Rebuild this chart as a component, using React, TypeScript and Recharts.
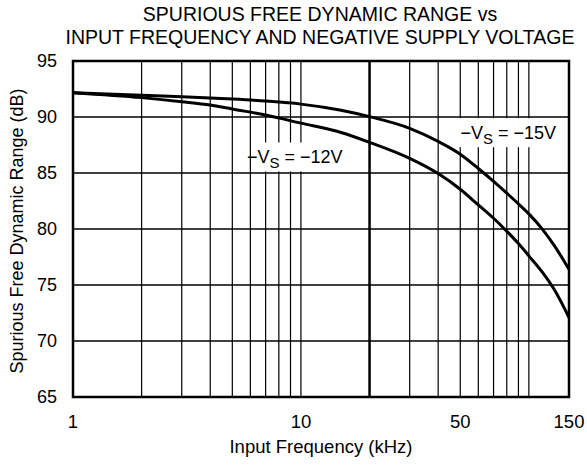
import React from "react";
import {
  LineChart,
  Line,
  CartesianGrid,
  XAxis,
  YAxis,
  ReferenceLine,
  ReferenceArea,
  ReferenceDot,
  Label,
} from "recharts";

// input frequency (kHz)
const freqs = [1, 2, 3, 4, 5, 7, 10, 15, 20, 30, 40, 50, 60, 70, 80, 90, 100, 115, 130, 150];
// SFDR (dB) at -Vs = -15V
const sfdr15 = [92.17, 91.95, 91.8, 91.7, 91.6, 91.42, 91.15, 90.6, 90.03, 88.99, 87.82, 86.68, 85.4, 84.25, 83.2, 82.25, 81.35, 79.95, 78.45, 76.4];
// SFDR (dB) at -Vs = -12V
const sfdr12 = [92.17, 91.73, 91.37, 91.07, 90.71, 90.18, 89.45, 88.62, 87.74, 86.31, 84.95, 83.55, 82.15, 80.96, 79.8, 78.7, 77.6, 76.1, 74.5, 72.1];

const xTicks = [1, 10, 50, 150];
const yTicks = [65, 70, 75, 80, 85, 90, 95];
const xGrid = [2, 3, 4, 5, 6, 7, 8, 9, 10, 20, 30, 40, 50, 60, 70, 80, 90, 100];

const data = freqs.map((f, i) => ({ f, v15: sfdr15[i], v12: sfdr12[i] }));

const FONT = "'Liberation Sans', Arial, Helvetica, sans-serif";

const Note = ({ cx, cy, w, volts }) => (
  <g>
    <rect x={cx - w / 2} y={cy - 14.5} width={w} height={29} fill="#fff" />
    <text
      x={cx}
      y={cy + 6}
      textAnchor="middle"
      fontFamily={FONT}
      fontSize={18}
      fill="#000"
    >
      −V
      <tspan fontSize={15} dy={5}>S</tspan>
      <tspan fontSize={18} dy={-5}>{" = −" + volts + "V"}</tspan>
    </text>
  </g>
);

export default function App() {
  return (
    <div
      style={{
        position: "absolute",
        left: 0,
        top: 0,
        width: 587,
        height: 465,
        background: "#fff",
        fontFamily: FONT,
      }}
    >
      <div
        style={{
          position: "absolute",
          left: 0,
          width: 640,
          top: 3,
          textAlign: "center",
          fontSize: 19.5,
          lineHeight: "23px",
          color: "#000",
        }}
      >
        SPURIOUS FREE DYNAMIC RANGE vs
        <br />
        INPUT FREQUENCY AND NEGATIVE SUPPLY VOLTAGE
      </div>
      <div style={{ position: "absolute", left: 0, top: 0 }}>
        <LineChart
          width={587}
          height={465}
          data={data}
          margin={{ top: 61, right: 18, bottom: 18, left: 15 }}
        >
          <CartesianGrid vertical={false} stroke="#000" strokeWidth={1.3} />
          <XAxis
            dataKey="f"
            type="number"
            scale="log"
            domain={[1, 150]}
            ticks={xTicks}
            allowDataOverflow
            height={50}
            axisLine={false}
            tickLine={false}
            tickSize={6}
            tickMargin={12}
            tick={{ fill: "#000", fontSize: 18.5, fontFamily: FONT }}
          >
            <Label
              content={({ viewBox }) => (
                <text
                  x={viewBox.x + viewBox.width / 2}
                  y={453}
                  textAnchor="middle"
                  fontFamily={FONT}
                  fontSize={18.5}
                  fill="#000"
                >
                  Input Frequency (kHz)
                </text>
              )}
            />
          </XAxis>
          <YAxis
            type="number"
            domain={[65, 95]}
            ticks={yTicks}
            width={58}
            axisLine={false}
            tickLine={false}
            tickSize={6}
            tickMargin={10}
            tick={{ fill: "#000", fontSize: 18, fontFamily: FONT }}
          >
            <Label
              content={({ viewBox }) => {
                const cx = 17;
                const cy = viewBox.y + viewBox.height / 2 + 2;
                return (
                  <text
                    x={cx}
                    y={cy}
                    transform={`rotate(-90 ${cx} ${cy})`}
                    textAnchor="middle"
                    dominantBaseline="central"
                    fontFamily={FONT}
                    fontSize={18}
                    fill="#000"
                  >
                    Spurious Free Dynamic Range (dB)
                  </text>
                );
              }}
            />
          </YAxis>
          {xGrid.map((v) => (
            <ReferenceLine
              key={v}
              x={v}
              stroke="#000"
              strokeWidth={v === 20 ? 2.5 : 1.2}
            />
          ))}
          <ReferenceArea
            x1={1}
            x2={150}
            y1={65}
            y2={95}
            fill="none"
            fillOpacity={0}
            stroke="#000"
            strokeWidth={2.5}
          />
          <Line
            type="monotone"
            dataKey="v15"
            stroke="#000"
            strokeWidth={3}
            dot={false}
            isAnimationActive={false}
          />
          <Line
            type="monotone"
            dataKey="v12"
            stroke="#000"
            strokeWidth={3}
            dot={false}
            isAnimationActive={false}
          />
          <ReferenceDot
            x={9.4}
            y={86.43}
            r={0}
            shape={(p) => <Note cx={p.cx} cy={p.cy} w={80} volts="12" />}
          />
          <ReferenceDot
            x={81.2}
            y={88.6}
            r={0}
            shape={(p) => <Note cx={p.cx} cy={p.cy} w={106} volts="15" />}
          />
        </LineChart>
      </div>
    </div>
  );
}
